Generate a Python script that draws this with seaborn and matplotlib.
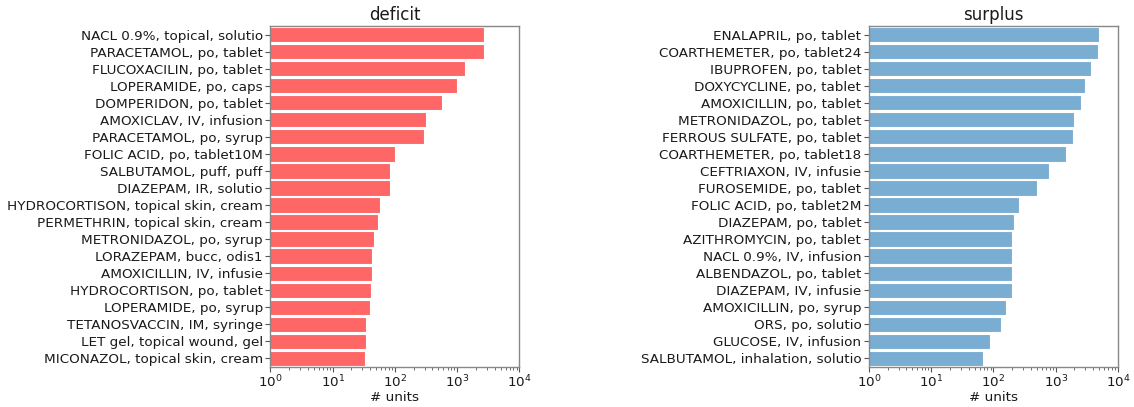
import matplotlib
matplotlib.use("Agg")
import matplotlib.pyplot as plt
import seaborn as sns
import pandas as pd

deficit_items = [
    "NACL 0.9%, topical, solutio",
    "PARACETAMOL, po, tablet",
    "FLUCOXACILIN, po, tablet",
    "LOPERAMIDE, po, caps",
    "DOMPERIDON, po, tablet",
    "AMOXICLAV, IV, infusion",
    "PARACETAMOL, po, syrup",
    "FOLIC ACID, po, tablet10M",
    "SALBUTAMOL, puff, puff",
    "DIAZEPAM, IR, solutio",
    "HYDROCORTISON, topical skin, cream",
    "PERMETHRIN, topical skin, cream",
    "METRONIDAZOL, po, syrup",
    "LORAZEPAM, bucc, odis1",
    "AMOXICILLIN, IV, infusie",
    "HYDROCORTISON, po, tablet",
    "LOPERAMIDE, po, syrup",
    "TETANOSVACCIN, IM, syringe",
    "LET gel, topical wound, gel",
    "MICONAZOL, topical skin, cream",
]
deficit_units = [2730, 2730, 1315, 1000, 575, 318, 292, 101, 83, 83,
                 57, 53, 46, 43, 43, 41, 40, 34, 34, 33]

surplus_items = [
    "ENALAPRIL, po, tablet",
    "COARTHEMETER, po, tablet24",
    "IBUPROFEN, po, tablet",
    "DOXYCYCLINE, po, tablet",
    "AMOXICILLIN, po, tablet",
    "METRONIDAZOL, po, tablet",
    "FERROUS SULFATE, po, tablet",
    "COARTHEMETER, po, tablet18",
    "CEFTRIAXON, IV, infusie",
    "FUROSEMIDE, po, tablet",
    "FOLIC ACID, po, tablet2M",
    "DIAZEPAM, po, tablet",
    "AZITHROMYCIN, po, tablet",
    "NACL 0.9%, IV, infusion",
    "ALBENDAZOL, po, tablet",
    "DIAZEPAM, IV, infusie",
    "AMOXICILLIN, po, syrup",
    "ORS, po, solutio",
    "GLUCOSE, IV, infusion",
    "SALBUTAMOL, inhalation, solutio",
]
surplus_units = [5000, 4820, 3620, 2940, 2560, 1950, 1880, 1435, 793, 495,
                 257, 214, 200, 200, 200, 200, 157, 134, 89, 68]

text_color = "#1a1a1a"
plt.rcParams.update({
    "font.family": ["DejaVu Sans"],
    "font.size": 9.7,
    "text.color": text_color,
    "axes.labelcolor": text_color,
    "xtick.color": text_color,
    "ytick.color": text_color,
    "axes.edgecolor": "#888888",
})

fig = plt.figure(figsize=(11.34, 4.07), dpi=100)
ax_def = fig.add_axes([0.2385, 0.0983, 0.2195, 0.8378])
ax_sur = fig.add_axes([0.7663, 0.0983, 0.2196, 0.8378])

panels = [
    (ax_def, deficit_items, deficit_units, "#ff6666", "deficit"),
    (ax_sur, surplus_items, surplus_units, "#79add2", "surplus"),
]

for ax, items, units, color, title in panels:
    df = pd.DataFrame({"item": items, "units": units})
    sns.barplot(data=df, x="units", y="item", orient="h", color=color,
                saturation=1, width=0.9, edgecolor="white", linewidth=0.8,
                ax=ax)
    ax.set_xscale("log")
    ax.set_xlim(1, 1e4)
    ax.set_ylim(len(items) - 0.5, -0.5)
    ax.set_xlabel("# units", fontsize=9.7, labelpad=1)
    ax.set_ylabel("")
    ax.set_title(title, fontsize=12, pad=4)
    ax.tick_params(axis="both", labelsize=9.7, length=3.5, width=0.8,
                   color="#555555", pad=2)
    ax.tick_params(axis="x", which="both", pad=1)
    ax.tick_params(axis="x", which="minor", length=2, color="#555555")
    for s in ax.spines.values():
        s.set_linewidth(1.0)

fig.savefig("out.png", dpi=100)
